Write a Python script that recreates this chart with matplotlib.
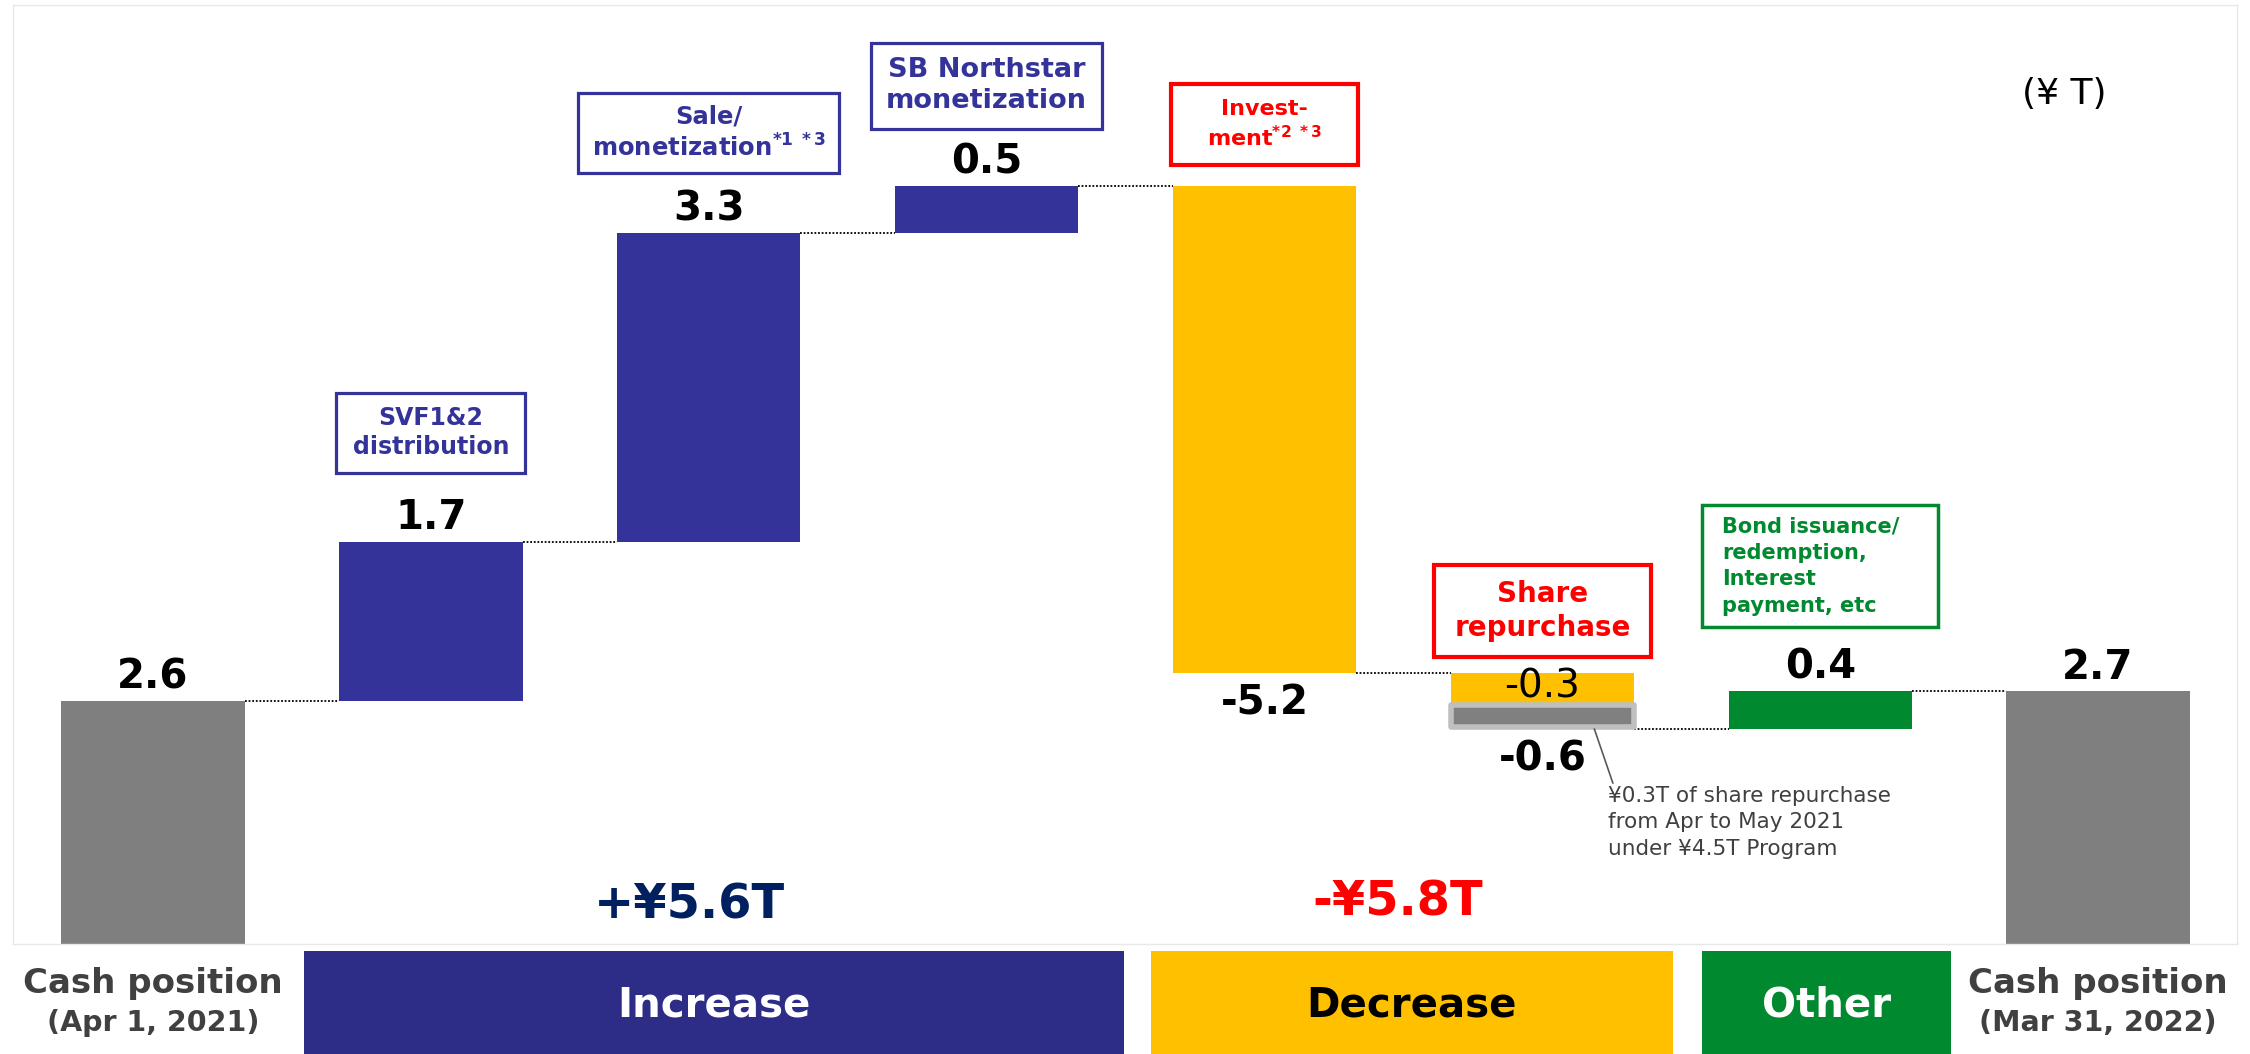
import numpy as np
import matplotlib.pyplot as plt
import matplotlib.transforms as mtransforms
from matplotlib.patches import Rectangle

plt.rcParams['font.family'] = ['DejaVu Sans']
plt.rcParams['mathtext.default'] = 'bf'

# --- dados (¥ T) ---
steps = ['Cash position (Apr 1, 2021)', 'SVF1&2 distribution', 'Sale/monetization',
         'SB Northstar monetization', 'Investment', 'Share repurchase',
         'Bond issuance/redemption, Interest payment, etc', 'Cash position (Mar 31, 2022)']
values = [2.6, 1.7, 3.3, 0.5, -5.2, -0.6, 0.4, 2.7]
value_labels = ['2.6', '1.7', '3.3', '0.5', '-5.2', '-0.6', '0.4', '2.7']
kinds = ['total', 'inc', 'inc', 'inc', 'dec', 'dec', 'other', 'total']
repurchase_new = -0.3      # parte amarela
repurchase_prior = -0.3    # programa de ¥4.5T (cinza)
box_texts = [None,
             'SVF1&2\ndistribution',
             'Sale/\nmonetization$^{*1\\ *3}$',
             'SB Northstar\nmonetization',
             'Invest-\nment$^{*2\\ *3}$',
             'Share\nrepurchase',
             'Bond issuance/\nredemption,\nInterest\npayment, etc',
             None]
end_labels = [('Cash position', '(Apr 1, 2021)'), ('Cash position', '(Mar 31, 2022)')]
group_names = ['Increase', 'Decrease', 'Other']
group_totals = ['+¥5.6T', '-¥5.8T']
note = '¥0.3T of share repurchase\nfrom Apr to May 2021\nunder ¥4.5T Program'

# --- estilo / layout ---
colors = {'total': '#7f7f7f', 'inc': '#333399', 'dec': '#FFC000', 'other': '#00892F'}
box_colors = [None, '#333399', '#333399', '#333399', '#FF0000', '#FF0000', '#00892F', None]
box_lw = [None, 2.3, 2.3, 2.3, 3.0, 3.0, 2.5, None]
box_sizes = [None, 17, 17.5, 19.5, 16, 20, 15, None]
box_gap = [None, 1.166, 1.07, 1.076, 0.66, 0.66, 1.34, None]
box_w = [None, 0.68, 0.94, 0.83, 0.67, 0.78, 0.85, None]
box_h = [None, 0.86, 0.86, 0.92, 0.86, 0.98, 1.30, None]
group_span = [(0.543, 3.496), (3.59, 5.47), (5.576, 6.47)]
group_fc = ['#2D2D87', '#FFC000', '#00892F']
group_tc = ['white', 'black', 'white']
width = 0.66

# cálculo do waterfall
bottoms, heights, levels = [], [], []
level = 0.0
for v, k in zip(values, kinds):
    if k == 'total':
        bottoms.append(0.0)
        heights.append(v)
        level = v
    else:
        bottoms.append(level if v > 0 else level + v)
        heights.append(abs(v))
        level += v
    levels.append(level)

x = np.arange(len(values))

fig = plt.figure(figsize=(22.5, 10.54), dpi=100)
ax = fig.add_axes([13 / 2250, 1 - 944 / 1054, 2224 / 2250, 939 / 1054])

ax.bar(x, heights, bottom=bottoms, width=width,
       color=[colors[k] for k in kinds], edgecolor='none', zorder=2)

# parte cinza (recompra do programa anterior)
i_rep = steps.index('Share repurchase')
ax.bar(x[i_rep], abs(repurchase_prior) - 0.07, bottom=levels[i_rep] + 0.025, width=width,
       color='#808080', edgecolor='#BFBFBF', linewidth=4, joinstyle='round', zorder=3)
ax.text(x[i_rep], levels[i_rep - 1] + repurchase_new / 2, f'{repurchase_new:.1f}',
        ha='center', va='center', fontsize=28, color='black', zorder=4)

# linhas pontilhadas de conexão
for i in range(len(values) - 1):
    ax.plot([x[i] + width / 2, x[i + 1] - width / 2], [levels[i], levels[i]],
            color='black', linestyle=(0, (1, 1)), linewidth=1.3, zorder=1)

# rótulos de valor
for i, (b, h, k) in enumerate(zip(bottoms, heights, kinds)):
    if k == 'dec':
        ax.annotate(value_labels[i], (x[i], b), xytext=(0, -22), textcoords='offset points',
                    ha='center', va='center', fontsize=29, fontweight='bold')
    else:
        ax.annotate(value_labels[i], (x[i], b + h), xytext=(0, 17), textcoords='offset points',
                    ha='center', va='center', fontsize=29, fontweight='bold')

# caixas de descrição
for i, t in enumerate(box_texts):
    if t is None:
        continue
    cy = bottoms[i] + heights[i] + box_gap[i]
    ax.add_patch(Rectangle((x[i] - box_w[i] / 2, cy - box_h[i] / 2), box_w[i], box_h[i],
                           facecolor='white', edgecolor=box_colors[i], linewidth=box_lw[i],
                           zorder=5))
    if i == 6:
        ax.text(x[i] - box_w[i] / 2 + 0.072, cy, t, ha='left', va='center',
                fontsize=box_sizes[i], fontweight='bold', color=box_colors[i],
                linespacing=1.4, zorder=6)
    else:
        ax.text(x[i], cy, t, ha='center', va='center', multialignment='center',
                fontsize=box_sizes[i], fontweight='bold', color=box_colors[i],
                linespacing=1.25, zorder=6)

# nota da recompra
ax.annotate(note, xy=(x[i_rep] + 0.187, bottoms[i_rep]), xytext=(x[i_rep] + 0.237, 1.69),
            ha='left', va='top', fontsize=15.5, color='#404040', linespacing=1.4,
            arrowprops=dict(arrowstyle='-', color='#595959', lw=1.2, shrinkA=0, shrinkB=0,
                            relpos=(0.02, 1.0)))

# totais por grupo
ax.text(1.93, 0.27, group_totals[0], ha='center', va='baseline', fontsize=34.5,
        fontweight='bold', color='#002060')
ax.text(4.48, 0.30, group_totals[1], ha='center', va='baseline', fontsize=34.5,
        fontweight='bold', color='#FF0000')

ax.text(6.88, 9.09, '(¥ T)', ha='center', va='center', fontsize=26)

# faixas de categoria abaixo do eixo
trans = mtransforms.blended_transform_factory(ax.transData, ax.transAxes)
for (x0, x1), name, fc, tc in zip(group_span, group_names, group_fc, group_tc):
    ax.add_patch(Rectangle((x0, -0.125), x1 - x0, 0.118, transform=trans,
                           facecolor=fc, edgecolor='none', clip_on=False))
    ax.text((x0 + x1) / 2, -0.066, name, transform=trans, ha='center', va='center',
            fontsize=29, fontweight='bold', color=tc)

for xi, (l1, l2) in zip([x[0], x[-1]], end_labels):
    ax.text(xi, -0.0527, l1, transform=trans, ha='center', va='baseline',
            fontsize=24.5, fontweight='bold', color='#404040')
    ax.text(xi, -0.0927, l2, transform=trans, ha='center', va='baseline',
            fontsize=20.5, fontweight='bold', color='#404040')

ax.set_xlim(-0.504, 7.5)
ax.set_ylim(0, 10.04)
ax.set_xticks([])
ax.set_yticks([])
for s in ax.spines.values():
    s.set_color('#E8E8E8')
    s.set_linewidth(1)

fig.savefig('out.png', dpi=100)
